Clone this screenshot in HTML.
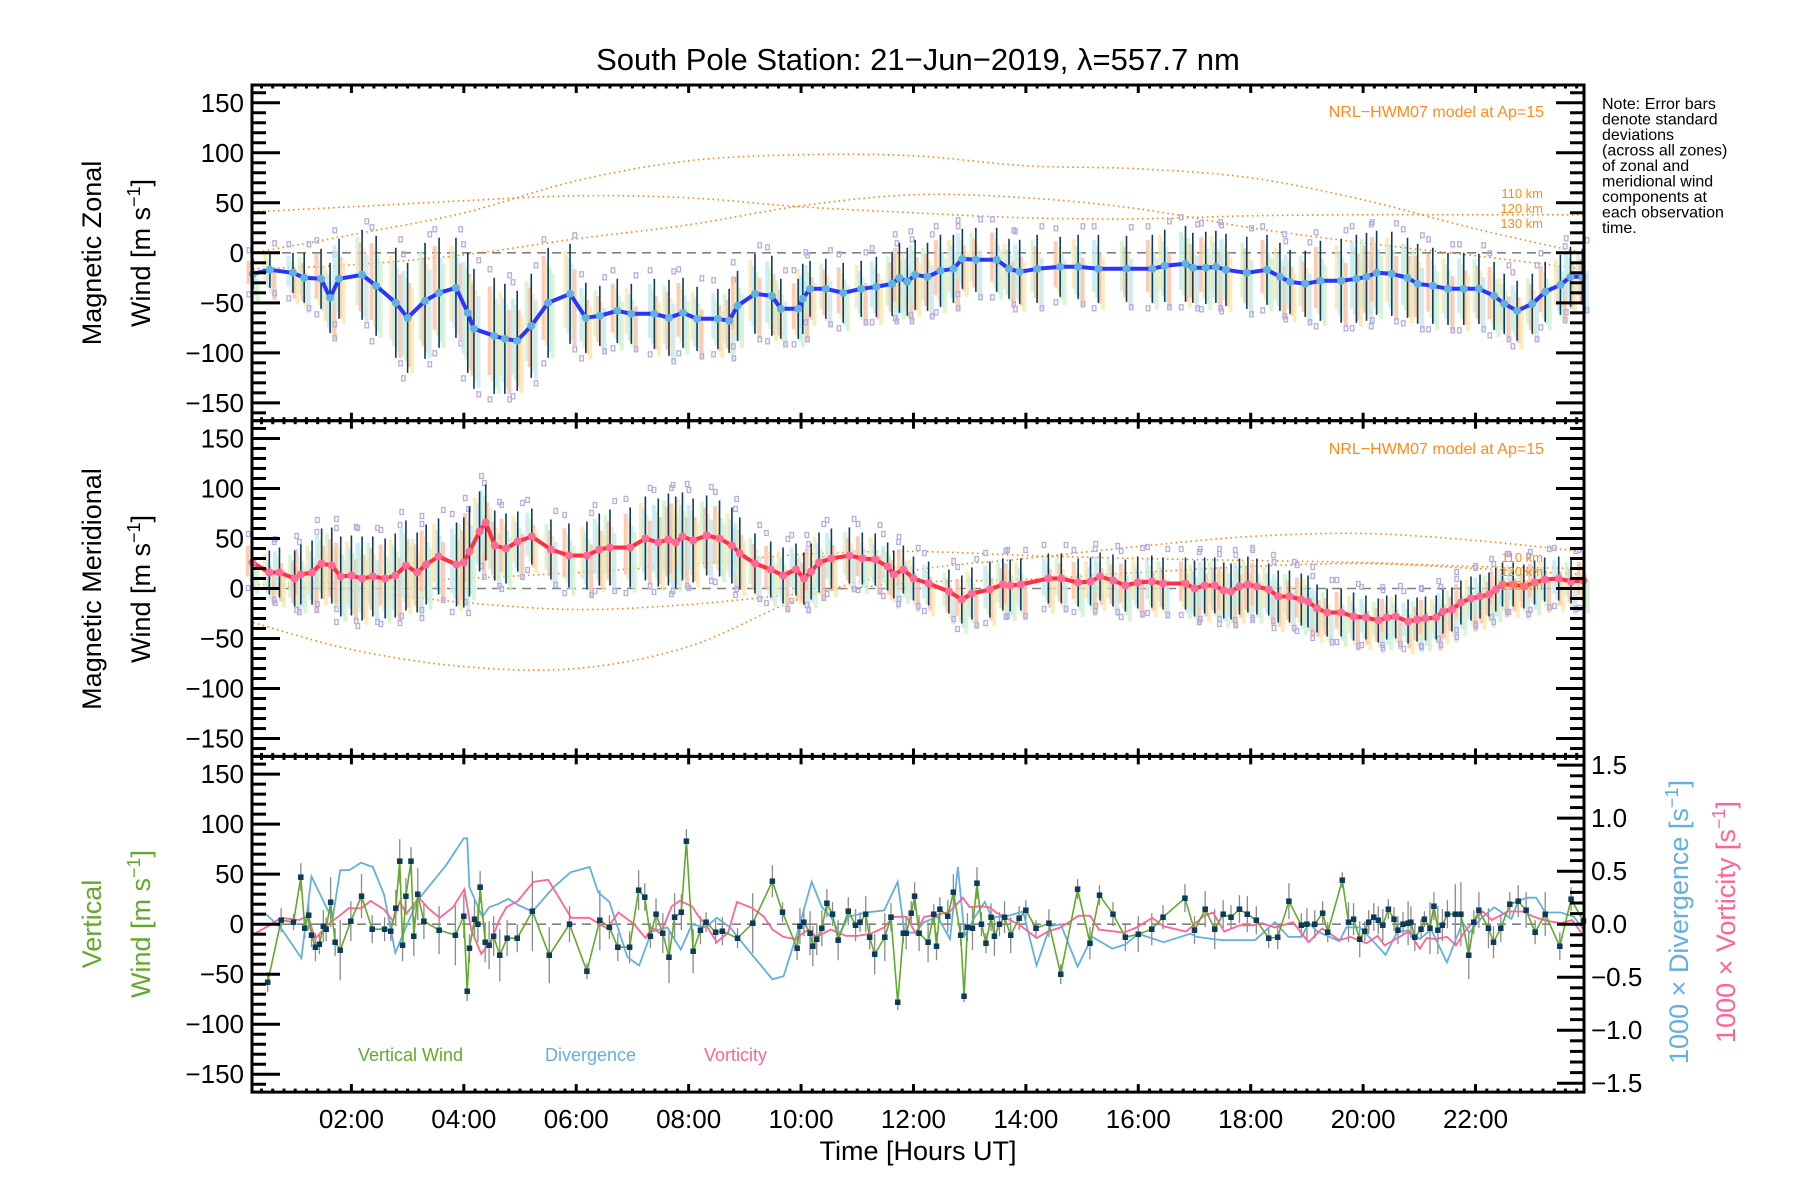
<!DOCTYPE html>
<html><head><meta charset="utf-8"><title>South Pole Station winds</title>
<style>
html,body{margin:0;padding:0;background:#fff;}
svg{display:block;font-family:"Liberation Sans",sans-serif;}
</style></head>
<body>
<svg id="chart" width="1800" height="1200" viewBox="0 0 1800 1200" xmlns="http://www.w3.org/2000/svg">
<rect x="0" y="0" width="1800" height="1200" fill="#fff"/>
<text x="918" y="70" font-size="31" text-anchor="middle" fill="#000">South Pole Station: 21−Jun−2019, λ=557.7 nm</text>
<g font-size="16" fill="#000">
<text x="1602" y="109">Note: Error bars</text>
<text x="1602" y="124.5">denote standard</text>
<text x="1602" y="140">deviations</text>
<text x="1602" y="155.5">(across all zones)</text>
<text x="1602" y="171">of zonal and</text>
<text x="1602" y="186.5">meridional wind</text>
<text x="1602" y="202">components at</text>
<text x="1602" y="217.5">each observation</text>
<text x="1602" y="233">time.</text>
</g>
<g id="layer"></g>
</svg>
<script>
// ---------------- data ----------------
const xTickLabels = ["02:00","04:00","06:00","08:00","10:00","12:00","14:00","16:00","18:00","20:00","22:00"];
const xTickHours = [2,4,6,8,10,12,14,16,18,20,22];
const yTickValues = [-150,-100,-50,0,50,100,150];
const rightTickValues = [-1.5,-1.0,-0.5,0.0,0.5,1.0,1.5];

const zonalHours = [0.25,0.55,0.96,1.16,1.46,1.62,1.78,2.19,2.44,2.79,3.0,3.31,3.56,3.86,4.07,4.18,4.54,4.73,4.95,5.2,5.5,5.89,6.17,6.42,6.73,6.98,7.39,7.65,7.9,8.15,8.52,8.72,8.87,9.18,9.48,9.64,9.95,10.03,10.16,10.44,10.75,11.07,11.34,11.62,11.75,11.89,12.03,12.25,12.48,12.71,12.87,13.11,13.48,13.70,13.89,14.2,14.61,14.93,15.29,15.79,16.25,16.47,16.84,16.97,17.2,17.38,17.56,17.93,18.29,18.52,18.70,18.97,19.24,19.61,19.88,20.06,20.24,20.51,20.79,20.97,21.24,21.51,21.79,22.06,22.33,22.51,22.74,23.01,23.24,23.51,23.69,23.9];
const zonalWind = [-21,-17,-20,-25,-26,-45,-26,-22,-33,-50,-65,-48,-40,-35,-60,-76,-83,-86,-88,-73,-50,-41,-65,-63,-58,-61,-61,-65,-60,-66,-66,-68,-53,-41,-43,-56,-56,-46,-36,-36,-40,-36,-34,-31,-25,-29,-22,-24,-18,-16,-6,-7,-7,-16,-19,-16,-14,-14,-16,-16,-16,-13,-11,-15,-15,-14,-17,-20,-17,-24,-29,-31,-28,-28,-26,-24,-20,-21,-25,-31,-33,-36,-36,-36,-43,-51,-58,-51,-39,-32,-24,-24];
const zonalStd = [15,18,20,25,30,35,40,45,50,55,55,58,55,50,60,60,58,55,50,52,55,50,35,30,32,30,35,38,35,32,30,32,35,40,40,30,30,35,28,30,30,28,30,32,35,34,35,34,36,34,30,32,32,30,32,34,30,32,34,33,34,36,38,35,36,36,36,36,35,34,32,33,40,42,44,44,42,42,40,40,38,36,36,35,34,30,30,30,30,30,30,28];

const meridHours = [0.24,0.54,0.72,0.99,1.1,1.3,1.47,1.65,1.81,2.0,2.19,2.38,2.6,2.78,2.97,3.17,3.33,3.55,3.87,4.0,4.1,4.28,4.39,4.55,4.75,4.96,5.21,5.55,5.87,6.19,6.41,6.6,6.96,7.23,7.46,7.64,7.77,7.89,8.08,8.32,8.55,8.77,8.91,9.18,9.46,9.68,9.91,10.05,10.18,10.32,10.54,10.86,11.09,11.32,11.54,11.65,11.82,12.0,12.27,12.63,12.86,13.04,13.36,13.59,13.72,13.91,14.4,14.63,14.93,15.15,15.32,15.55,15.77,15.99,16.24,16.44,16.84,17.0,17.18,17.36,17.52,17.65,17.8,17.95,18.11,18.32,18.49,18.69,18.9,19.02,19.18,19.36,19.61,19.83,20.05,20.27,20.42,20.58,20.8,20.96,21.11,21.3,21.42,21.58,21.74,21.92,22.08,22.24,22.36,22.48,22.67,22.86,23.05,23.23,23.48,23.7,23.92];
const meridWind = [26,16,16,10,14,16,25,23,12,13,10,12,10,13,23,16,24,32,24,26,37,57,66,43,40,47,52,39,33,33,39,41,41,50,46,49,46,52,48,53,50,43,35,25,19,13,19,10,17,26,30,33,30,29,22,14,19,10,5,-3,-11,-5,-1,4,3,4,10,10,6,7,12,8,3,6,7,5,5,0,3,3,-2,-3,2,4,2,-1,-8,-8,-11,-13,-20,-24,-24,-28,-29,-32,-29,-28,-33,-31,-30,-29,-23,-21,-14,-10,-8,-6,-1,4,4,2,6,9,10,7,8];
const meridStd = [20,22,25,28,30,32,35,38,40,40,42,40,40,42,45,40,40,38,42,45,45,40,38,35,35,30,28,30,32,34,36,38,40,42,44,46,46,44,42,40,38,38,36,30,28,28,26,26,28,30,30,28,26,26,24,24,24,22,22,22,24,26,28,26,26,26,25,25,24,24,24,26,26,26,26,26,26,28,28,28,28,28,28,28,28,26,26,26,26,26,24,24,24,24,22,22,22,22,22,22,22,22,22,22,22,22,22,22,22,22,22,22,22,22,22,22,22];

const modelHours = [0.25,2,4,6,8,10,12,14,16,18,20,22,23.9];
const zonal110 = [41,46,52,57,55,46,40,35,34,37,38,38,38];
const zonal120 = [0,18,40,72,92,98,97,87,84,75,53,24,0];
const zonal130 = [-16,-12,-2,14,28,47,58,55,44,25,10,-3,-16];
const merid110 = [-34,-61,-78,-80,-58,-10,18,30,42,52,55,48,37];
const merid120 = [4,-2,-14,-21,-16,-5,6,9,16,22,25,20,14];
const merid130 = [4,6,10,16,24,34,37,33,30,28,26,22,20];

const vertHours = [0.51,0.75,0.97,1.10,1.17,1.24,1.29,1.36,1.43,1.50,1.55,1.63,1.71,1.80,1.99,2.18,2.37,2.59,2.70,2.79,2.86,2.91,2.97,3.06,3.11,3.18,3.29,3.56,3.85,4.0,4.06,4.10,4.19,4.25,4.29,4.38,4.45,4.53,4.64,4.77,4.95,5.22,5.52,5.88,6.19,6.42,6.59,6.74,6.95,7.11,7.22,7.32,7.42,7.54,7.65,7.75,7.87,7.96,8.08,8.21,8.31,8.48,8.60,8.87,9.14,9.49,9.67,9.93,9.98,10.05,10.16,10.21,10.28,10.37,10.46,10.56,10.66,10.84,10.97,11.05,11.15,11.22,11.31,11.49,11.60,11.72,11.82,11.87,11.96,12.02,12.10,12.26,12.36,12.41,12.47,12.61,12.71,12.84,12.9,12.96,13.05,13.13,13.21,13.29,13.38,13.44,13.53,13.62,13.73,13.88,14.0,14.18,14.41,14.62,14.92,15.14,15.31,15.55,15.77,16.0,16.24,16.44,16.83,17.0,17.19,17.36,17.51,17.65,17.80,17.94,18.1,18.32,18.48,18.68,18.9,19.0,19.14,19.28,19.37,19.63,19.74,19.83,19.94,20.03,20.10,20.19,20.27,20.35,20.45,20.55,20.62,20.71,20.80,20.85,20.92,21.03,21.09,21.19,21.26,21.33,21.41,21.50,21.64,21.74,21.88,21.97,22.06,22.23,22.32,22.45,22.61,22.76,22.90,23.06,23.24,23.5,23.70,23.92];
const vertWind = [-58,4,2,47,-4,9,-11,-23,-20,-2,-5,22,-18,-26,3,28,-5,-5,-7,16,63,-21,28,63,-12,30,3,-6,-11,8,-67,-24,5,0,37,-18,-21,-12,-31,-14,-14,13,-31,0,-47,4,-3,-23,-23,34,27,-12,10,-9,-33,7,12,83,-27,-6,2,-8,-7,-14,1,43,12,-24,-2,2,-9,-22,-15,-4,21,10,-16,13,-1,2,10,-13,-30,-13,7,-78,-9,-9,11,28,-9,-18,10,-22,15,8,32,-11,-72,-3,-4,41,0,-19,7,-12,0,7,-11,6,14,-4,1,-50,35,-19,29,10,-13,-10,-5,7,26,-6,15,-5,10,7,15,10,4,-14,-13,23,-1,0,0,11,-8,44,2,5,-15,-7,2,7,4,-1,15,5,-6,0,1,2,-13,-5,5,-4,18,-6,-1,10,10,10,-31,2,14,-4,-18,-4,20,23,14,-8,10,-22,25,3];
const vertErr = [10,12,8,14,10,15,12,14,10,16,12,25,14,30,20,22,14,12,10,18,22,16,18,14,20,26,18,24,30,22,10,14,20,18,16,20,24,20,26,18,14,40,28,18,8,30,12,14,16,20,14,12,16,20,26,24,18,12,22,14,10,12,14,10,30,16,10,12,18,14,22,20,16,18,14,12,20,14,16,10,18,12,20,24,14,8,10,16,12,14,18,20,10,14,12,16,18,10,6,14,22,16,12,10,14,20,12,16,18,12,10,8,14,10,10,16,10,12,14,18,16,12,14,14,18,20,14,12,14,18,14,10,12,18,12,16,14,12,10,8,20,16,18,10,12,14,14,16,10,12,14,12,22,16,14,10,8,26,14,24,16,14,30,32,24,12,18,20,16,14,12,16,18,12,22,14,12,18,14];

const divHours = [0.28,0.47,0.75,1.11,1.29,1.59,1.67,1.8,1.96,2.17,2.38,2.58,2.78,2.94,3.17,3.37,3.69,4.0,4.06,4.1,4.33,4.45,4.61,4.79,4.97,5.22,5.6,5.9,6.24,6.39,6.59,6.91,7.12,7.34,7.62,7.86,8.06,8.3,8.5,8.74,8.93,9.49,9.69,9.93,10.19,10.37,10.53,10.69,10.84,11.16,11.48,11.72,11.84,12.03,12.19,12.43,12.65,12.79,12.91,13.07,13.27,13.39,13.63,13.75,13.95,14.19,14.43,14.62,14.92,15.18,15.54,15.77,16.0,16.45,16.93,17.04,17.48,18.08,18.43,18.67,18.91,19.03,19.19,19.58,19.70,19.94,20.18,20.40,20.61,20.81,21.01,21.21,21.49,21.77,21.89,22.09,22.33,22.64,22.76,22.92,23.08,23.24,23.52,23.75,23.92];
const divergence = [0.10,0.10,-0.04,-0.32,0.45,0.12,0.07,0.51,0.51,0.58,0.54,0.28,-0.27,-0.07,0.22,0.35,0.56,0.81,0.81,0.35,0.07,0.16,0.19,0.24,0.18,0.12,0.35,0.49,0.54,0.30,0.21,-0.31,-0.39,-0.07,-0.03,-0.24,0,-0.03,0.06,-0.03,-0.16,-0.52,-0.49,-0.09,0.40,0.16,0.07,-0.09,0.07,0.11,0.13,0.40,-0.08,-0.08,0.02,0.07,-0.14,0.54,-0.11,0.05,0.21,0.07,0.07,0.09,0.12,-0.39,-0.02,0,-0.40,-0.12,-0.23,-0.19,-0.09,-0.17,-0.09,-0.12,-0.15,-0.15,0.02,-0.12,-0.12,0.01,-0.07,-0.16,-0.03,-0.03,-0.16,-0.29,-0.07,-0.06,-0.14,-0.05,-0.36,0.02,-0.08,0.05,0.16,0.05,0.22,0.25,0.25,0.11,0.11,0.07,-0.05];

const vortHours = [0.28,0.51,0.75,1.07,1.23,1.35,1.47,1.63,1.79,1.95,2.18,2.34,2.58,2.74,2.86,2.98,3.20,3.37,3.57,3.81,4.01,4.13,4.31,4.48,4.64,4.76,4.96,5.24,5.5,5.91,6.23,6.55,6.75,7.03,7.23,7.35,7.5,7.7,7.84,8.06,8.18,8.3,8.50,8.70,8.86,9.14,9.34,9.49,9.69,9.89,10.13,10.28,10.53,10.80,11.00,11.24,11.48,11.64,11.88,12.04,12.19,12.43,12.65,12.88,13.0,13.19,13.35,13.47,13.71,13.87,14.19,14.39,14.62,14.94,15.14,15.30,15.74,15.97,16.25,16.45,16.85,17.17,17.33,17.53,17.80,18.04,18.2,18.43,18.75,19.03,19.27,19.58,19.78,20.06,20.26,20.38,20.58,20.81,21.01,21.13,21.29,21.49,21.65,21.81,21.97,22.13,22.29,22.57,22.84,23.04,23.28,23.52,23.72,23.92];
const vorticity = [-0.09,-0.02,0.06,0.04,0.08,-0.14,-0.07,0.02,0.08,0.15,0.15,0.22,0.14,0.03,0.21,0.10,0.25,0.15,0.06,0.16,0.33,-0.05,-0.28,-0.16,0.05,0.16,0.22,0.40,0.42,0.06,0.06,-0.04,0.11,0,-0.13,-0.03,-0.09,0.17,0.22,0.17,0.07,0,-0.17,-0.08,0.21,0.15,0.07,-0.05,-0.12,-0.14,-0.05,-0.12,-0.05,-0.11,-0.11,-0.09,-0.03,0.07,0.07,-0.09,0.07,0.09,0.12,0.25,0.16,0.17,0.16,0.11,0.04,0,-0.13,-0.07,-0.03,0.08,0.08,-0.05,-0.08,-0.03,0.06,-0.02,-0.07,0.08,0.11,-0.07,-0.01,-0.01,0.01,-0.03,0.02,-0.17,-0.04,-0.15,-0.12,-0.18,-0.11,-0.20,-0.14,-0.07,-0.23,-0.13,-0.14,-0.12,-0.20,-0.07,0.03,0.12,0.04,0.12,0.12,0.07,0.03,0.01,0.04,-0.11];

// ---------------- layout / scales ----------------
const NS = "http://www.w3.org/2000/svg";
const L = 252, R = 1584;
const H0 = 0.2313, H1 = 23.93;
const TOP = 85, PH = 335.7, HALF = 167.8;
function xS(h){ return L + (h - H0) / (H1 - H0) * (R - L); }
function yS(p, v){ return TOP + PH*p + HALF - v * (PH / (2*HALF)); }
function yR(v){ return TOP + PH*2 + HALF - v * (PH / (2*1.5833)); }
const layer = document.getElementById('layer');
function mk(tag, attrs, parent){
  const e = document.createElementNS(NS, tag);
  for (const k in attrs) e.setAttribute(k, attrs[k]);
  (parent || layer).appendChild(e);
  return e;
}
function group(name){
  const g = mk('g', {});
  
  
  return g;
}
function smoothPath(hs, vs, yf){
  const pts = hs.map((h,i)=>[xS(h), yf(vs[i])]);
  let d = `M${pts[0][0]},${pts[0][1]}`;
  for (let i=0;i<pts.length-1;i++){
    const p0 = pts[Math.max(0,i-1)], p1 = pts[i], p2 = pts[i+1], p3 = pts[Math.min(pts.length-1,i+2)];
    const c1 = [p1[0]+(p2[0]-p0[0])/6, p1[1]+(p2[1]-p0[1])/6];
    const c2 = [p2[0]-(p3[0]-p1[0])/6, p2[1]-(p3[1]-p1[1])/6];
    d += ` C${c1[0]},${c1[1]} ${c2[0]},${c2[1]} ${p2[0]},${p2[1]}`;
  }
  return d;
}
function linePath(hs, vs, yf){
  return hs.map((h,i)=>(i?'L':'M')+xS(h).toFixed(1)+','+yf(vs[i]).toFixed(1)).join(' ');
}
const pastel = ['#f9b9a6','#fbe6a4','#bfe6f6','#cdf1c6','#f9b9a6'];

// ---------------- wind panels (zonal, meridional) ----------------
function windPanel(p, name, hrs, vals, std, lineCol, dotCol, models){
  const yf = v => yS(p, v);
  const gM = group(name + '-model-curves');
  models.forEach((m, k) => {
    const path = mk('path', {d: smoothPath(modelHours, m, yf), fill:'none', stroke:'#ff7f0e', 'stroke-width':1.6, 'stroke-dasharray':'1.5 3.5'}, gM);
    
    
  });
  const gB = group(name + '-zone-spread');
  hrs.forEach((h, i) => {
    const x = xS(h), s = std[i] * 0.85;
    for (let k = 0; k < 4; k++){
      const off = (k - 1.5) * 3;
      const r = mk('rect', {x: x + off - 2, y: yf(vals[i] + s - k*6), width: 4, height: Math.max(2, 2*s*0.9), fill: pastel[(i+k)%4], opacity: 0.75}, gB);
      
      
    }
    [std[i] + 8, -std[i] - 6].forEach(o => {
      const q = mk('rect', {x: x + ((i%2)?3:-6), y: yf(vals[i] + o) - 3, width: 3.5, height: 5, fill: 'none', stroke: '#b4aee0', 'stroke-width': 1.3}, gB);
      
      
    });
  });
  const gE = group(name + '-error-bars');
  hrs.forEach((h, i) => {
    const e = mk('line', {x1: xS(h), x2: xS(h), y1: yf(vals[i] + std[i]), y2: yf(vals[i] - std[i]), stroke: '#0d3b5e', 'stroke-width': 1.6}, gE);
    
    
  });
  const gL = group(name + '-mean-series');
  const ln = mk('path', {d: linePath(hrs, vals, yf), fill:'none', stroke: lineCol, 'stroke-width': 4, 'stroke-linejoin':'round'}, gL);
  
  
  hrs.forEach((h, i) => {
    const c = mk('circle', {cx: xS(h), cy: yf(vals[i]), r: 4, fill: dotCol}, gL);
    
    
  });
}

// zero lines
[0,1,2].forEach(p => {
  const z = mk('line', {x1: L, x2: R, y1: yS(p,0), y2: yS(p,0), stroke:'#808080', 'stroke-width':1.6, 'stroke-dasharray':'9 6'});
  
  
});

windPanel(0, 'zonal', zonalHours, zonalWind, zonalStd, '#2a35ff', '#62b2e0', [zonal110, zonal120, zonal130]);
windPanel(1, 'meridional', meridHours, meridWind, meridStd, '#ff3040', '#ff6a98', [merid110, merid120, merid130]);

// ---------------- vertical wind / divergence / vorticity ----------------
const gV = group('vertical-panel-series');
vertHours.forEach((h, i) => {
  const er = vertErr[i] || 14;
  const e = mk('line', {x1: xS(h), x2: xS(h), y1: yS(2, vertWind[i] + er), y2: yS(2, vertWind[i] - er), stroke: '#8a8a8a', 'stroke-width': 1.3}, gV);
  
  
});
const dv = mk('path', {d: linePath(divHours, divergence, yR), fill:'none', stroke:'#64b0dc', 'stroke-width':1.8}, gV);


const vt = mk('path', {d: linePath(vortHours, vorticity, yR), fill:'none', stroke:'#ff6494', 'stroke-width':1.8}, gV);


const vw = mk('path', {d: linePath(vertHours, vertWind, v => yS(2, v)), fill:'none', stroke:'#62aa2a', 'stroke-width':1.6}, gV);


vertHours.forEach((h, i) => {
  const m = mk('rect', {x: xS(h) - 2.5, y: yS(2, vertWind[i]) - 2.5, width: 5, height: 5, fill: '#0b3a5c', stroke: '#0b3a5c', 'stroke-width': 0.5}, gV);
  
  
});

// ---------------- axes ----------------
const gA = group('axes');
for (let p = 0; p < 3; p++){
  const t = TOP + PH*p, b = t + PH;
  const fr = mk('rect', {x: L, y: t, width: R-L, height: PH, fill:'none', stroke:'#000', 'stroke-width':3}, gA);
  
  
  // y ticks
  for (let v = -160; v <= 160; v += 10){
    const y = yS(p, v), maj = v % 50 === 0, len = maj ? 28 : 14;
    const tl = mk('line', {x1: L, x2: L+len, y1: y, y2: y, stroke:'#000', 'stroke-width': 3}, gA);
    
    
    if (p < 2){
      const tr = mk('line', {x1: R, x2: R-len, y1: y, y2: y, stroke:'#000', 'stroke-width': 3}, gA);
      
      
    }
  }
  yTickValues.forEach(v => {
    const lb = mk('text', {x: 244, y: yS(p, v) + 9, 'font-size': 26, 'text-anchor':'end', fill:'#000'}, gA);
    lb.textContent = (v < 0 ? '−' + Math.abs(v) : String(v));
    
    
  });
  // x ticks
  for (let m = 0; m <= 24*60; m += 12){
    const h = m/60;
    if (h < H0 || h > H1) continue;
    const maj = m % 120 === 0, len = maj ? 8 : 3.5;
    [[b, -1],[t, 1]].forEach(([yy, dir]) => {
      const xt = mk('line', {x1: xS(h), x2: xS(h), y1: yy, y2: yy + dir*len, stroke:'#000', 'stroke-width': 3}, gA);
      
      
    });
  }
}
// right axis panel 3
for (let v = -1.5; v <= 1.501; v += 0.1){
  const y = yR(v), maj = Math.abs(Math.round(v*10) % 5) === 0, len = maj ? 27 : 14;
  const tr = mk('line', {x1: R, x2: R-len, y1: y, y2: y, stroke:'#000', 'stroke-width': 3}, gA);
  
  
}
rightTickValues.forEach(v => {
  const lb = mk('text', {x: 1591, y: yR(v) + 9, 'font-size': 26, fill:'#000'}, gA);
  lb.textContent = (v < 0 ? '−' + Math.abs(v).toFixed(1) : v.toFixed(1));
  
  
});
xTickHours.forEach((h, i) => {
  const lb = mk('text', {x: xS(h), y: 1128, 'font-size': 26, 'text-anchor':'middle', fill:'#000'}, gA);
  lb.textContent = xTickLabels[i];
  
  
});
</script>
<g></g>
<svg width="0" height="0"></svg>
<script>
// static labels
(function(){
  const NS = "http://www.w3.org/2000/svg";
  const svg = document.getElementById('chart');
  function txt(name, str, attrs, rot){
    const t = document.createElementNS(NS, 'text');
    for (const k in attrs) t.setAttribute(k, attrs[k]);
    if (rot) t.setAttribute('transform', rot);
    t.innerHTML = str;
    
    
    svg.appendChild(t);
  }
  const sup = '<tspan baseline-shift="super" font-size="18">−1</tspan>';
  txt('x-axis-title', 'Time [Hours UT]', {x: 918, y: 1160, 'font-size': 27, 'text-anchor': 'middle', fill: '#000'});
  txt('zonal-y-title-line1', 'Magnetic Zonal', {x: 0, y: 0, 'font-size': 27, 'text-anchor': 'middle', fill: '#000'}, 'translate(101,253) rotate(-90)');
  txt('zonal-y-title-line2', 'Wind [m s' + sup + ']', {x: 0, y: 0, 'font-size': 27, 'text-anchor': 'middle', fill: '#000'}, 'translate(150,253) rotate(-90)');
  txt('meridional-y-title-line1', 'Magnetic Meridional', {x: 0, y: 0, 'font-size': 27, 'text-anchor': 'middle', fill: '#000'}, 'translate(101,589) rotate(-90)');
  txt('meridional-y-title-line2', 'Wind [m s' + sup + ']', {x: 0, y: 0, 'font-size': 27, 'text-anchor': 'middle', fill: '#000'}, 'translate(150,589) rotate(-90)');
  txt('vertical-y-title-line1', 'Vertical', {x: 0, y: 0, 'font-size': 27, 'text-anchor': 'middle', fill: '#62aa2a'}, 'translate(101,924) rotate(-90)');
  txt('vertical-y-title-line2', 'Wind [m s' + sup + ']', {x: 0, y: 0, 'font-size': 27, 'text-anchor': 'middle', fill: '#62aa2a'}, 'translate(150,924) rotate(-90)');
  txt('divergence-axis-title', '1000 × Divergence [s' + sup + ']', {x: 0, y: 0, 'font-size': 27, 'text-anchor': 'middle', fill: '#64b0dc'}, 'translate(1688,922) rotate(-90)');
  txt('vorticity-axis-title', '1000 × Vorticity [s' + sup + ']', {x: 0, y: 0, 'font-size': 27, 'text-anchor': 'middle', fill: '#ff6494'}, 'translate(1735,922) rotate(-90)');
  txt('zonal-model-label', 'NRL−HWM07 model at Ap=15', {x: 1544, y: 117, 'font-size': 16, 'text-anchor': 'end', fill: '#ff8c1a'});
  txt('meridional-model-label', 'NRL−HWM07 model at Ap=15', {x: 1544, y: 454, 'font-size': 16, 'text-anchor': 'end', fill: '#ff8c1a'});
  [['110 km',198],['120 km',213],['130 km',228]].forEach(([s,y]) => txt('zonal-altitude-label', s, {x: 1543, y: y, 'font-size': 13, 'text-anchor': 'end', fill: '#ff8c1a'}));
  [['110 km',562],['120 km',576],['130 km',590]].forEach(([s,y]) => txt('meridional-altitude-label', s, {x: 1543, y: y, 'font-size': 13, 'text-anchor': 'end', fill: '#ff8c1a'}));
  txt('legend-vertical-wind', 'Vertical Wind', {x: 358, y: 1061, 'font-size': 18, fill: '#62aa2a'});
  txt('legend-divergence', 'Divergence', {x: 545, y: 1061, 'font-size': 18, fill: '#64b0dc'});
  txt('legend-vorticity', 'Vorticity', {x: 704, y: 1061, 'font-size': 18, fill: '#ff6494'});
})();
</script>
</body></html>
